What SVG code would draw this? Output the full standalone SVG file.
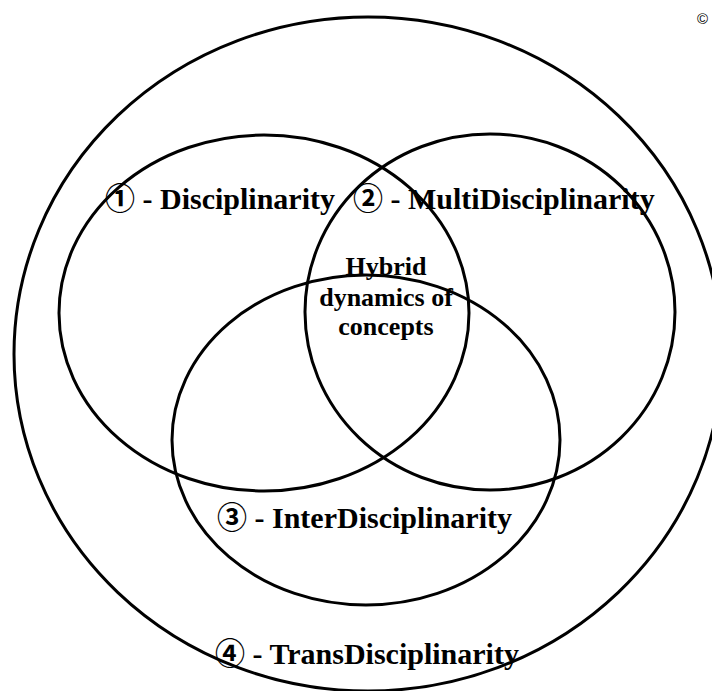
<svg xmlns="http://www.w3.org/2000/svg" width="712" height="691" viewBox="0 0 712 691">
<style>
.c{fill:none;stroke:#000;stroke-width:3}
.t{font-family:"Liberation Serif","Times New Roman","Noto Sans CJK SC",serif;font-weight:bold;fill:#000}
.l{font-size:30px}
.h{font-size:26px;text-anchor:middle}
</style>
<rect width="712" height="691" fill="#fff"/>
<g id="outer"><ellipse class="c" cx="368" cy="354" rx="354" ry="337"/></g>
<g id="disciplinarity"><ellipse class="c" cx="264" cy="313" rx="205" ry="178"/></g>
<g id="multidisciplinarity"><ellipse class="c" cx="490" cy="312" rx="185" ry="178"/></g>
<g id="interdisciplinarity"><ellipse class="c" cx="366" cy="440" rx="194" ry="165"/></g>
<g id="labels">
<text class="t l" x="105" y="209">① - Disciplinarity</text>
<text class="t l" x="353" y="209">② - MultiDisciplinarity</text>
<text class="t h" x="386" y="275">Hybrid</text>
<text class="t h" x="386" y="306">dynamics of</text>
<text class="t h" x="386" y="335">concepts</text>
<text class="t l" x="217" y="528">③ - InterDisciplinarity</text>
<text class="t l" x="215" y="664">④ - TransDisciplinarity</text>
<text x="697" y="24" style="font-family:'Liberation Sans',sans-serif;font-size:15px">©</text>
</g>
</svg>
